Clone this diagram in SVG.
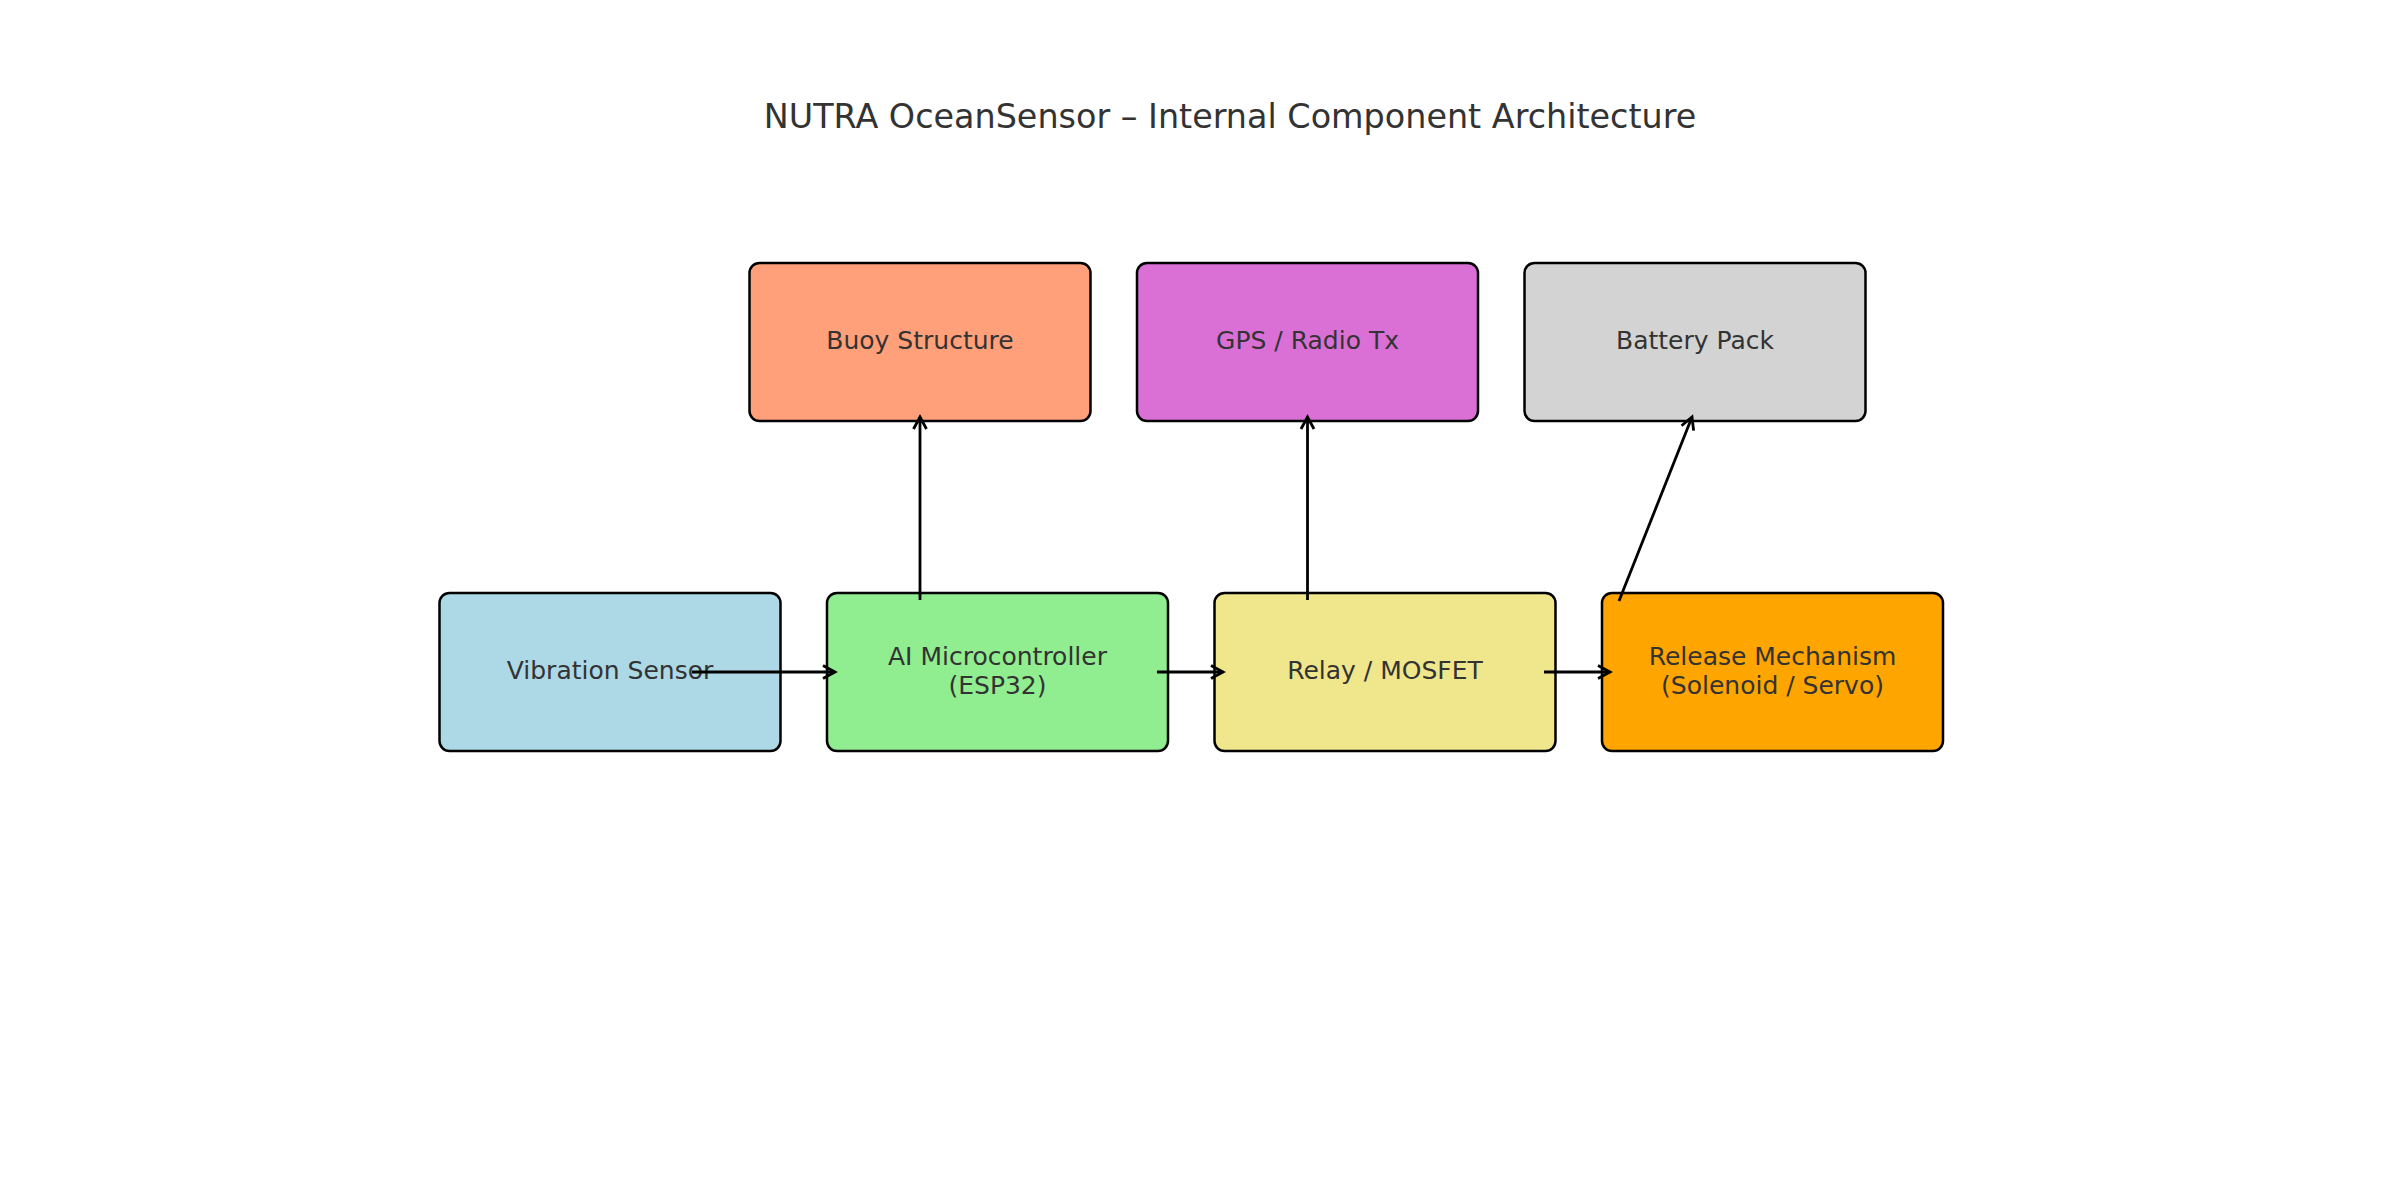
<svg xmlns="http://www.w3.org/2000/svg" width="2400" height="1200" viewBox="0 0 2400 1200">
<style>
.box{stroke:#000;stroke-width:2.5}
.lbl{font-family:"DejaVu Sans","Liberation Sans",sans-serif;font-size:25px;fill:#333333;text-anchor:middle}
.title{font-family:"DejaVu Sans","Liberation Sans",sans-serif;font-size:33.4px;fill:#333333;text-anchor:middle}
.conn{stroke:#000;stroke-width:2.8;fill:none;marker-end:url(#arr)}
</style>
<defs>
<marker id="arr" markerUnits="userSpaceOnUse" viewBox="-16 -10 20 20" refX="0" refY="0" markerWidth="20" markerHeight="20" orient="auto">
<path d="M -12 -6.5 L 0 0 L -12 6.5" fill="none" stroke="#000" stroke-width="2.8" stroke-linejoin="miter"/>
</marker>
</defs>
<rect width="2400" height="1200" fill="#ffffff"/>
<text class="title" x="1230" y="128">NUTRA OceanSensor – Internal Component Architecture</text>
<g id="buoy"><rect class="box" x="749.5" y="263" width="341" height="158" rx="10" fill="#FFA07A"/><text class="lbl" x="920" y="349">Buoy Structure</text></g>
<g id="gps"><rect class="box" x="1137" y="263" width="341" height="158" rx="10" fill="#DA70D6"/><text class="lbl" x="1307.5" y="349">GPS / Radio Tx</text></g>
<g id="battery"><rect class="box" x="1524.5" y="263" width="341" height="158" rx="10" fill="#D3D3D3"/><text class="lbl" x="1695" y="349">Battery Pack</text></g>
<g id="vibration"><rect class="box" x="439.5" y="593" width="341" height="158" rx="10" fill="#ADD8E6"/><text class="lbl" x="610" y="679">Vibration Sensor</text></g>
<g id="ai"><rect class="box" x="827" y="593" width="341" height="158" rx="10" fill="#90EE90"/><text class="lbl" x="997.5" y="665">AI Microcontroller</text><text class="lbl" x="997.5" y="694">(ESP32)</text></g>
<g id="relay"><rect class="box" x="1214.5" y="593" width="341" height="158" rx="10" fill="#F0E68C"/><text class="lbl" x="1385" y="679">Relay / MOSFET</text></g>
<g id="release"><rect class="box" x="1602" y="593" width="341" height="158" rx="10" fill="#FFA500"/><text class="lbl" x="1772.5" y="665">Release Mechanism</text><text class="lbl" x="1772.5" y="694">(Solenoid / Servo)</text></g>
<g id="connectors">
<line class="conn" x1="692" y1="672" x2="835" y2="672"/>
<line class="conn" x1="1157" y1="672" x2="1223" y2="672"/>
<line class="conn" x1="1544" y1="672" x2="1610" y2="672"/>
<line class="conn" x1="920" y1="600" x2="920" y2="417"/>
<line class="conn" x1="1307.5" y1="600" x2="1307.5" y2="417"/>
<line class="conn" x1="1619" y1="601" x2="1692" y2="417"/>
</g>
</svg>
